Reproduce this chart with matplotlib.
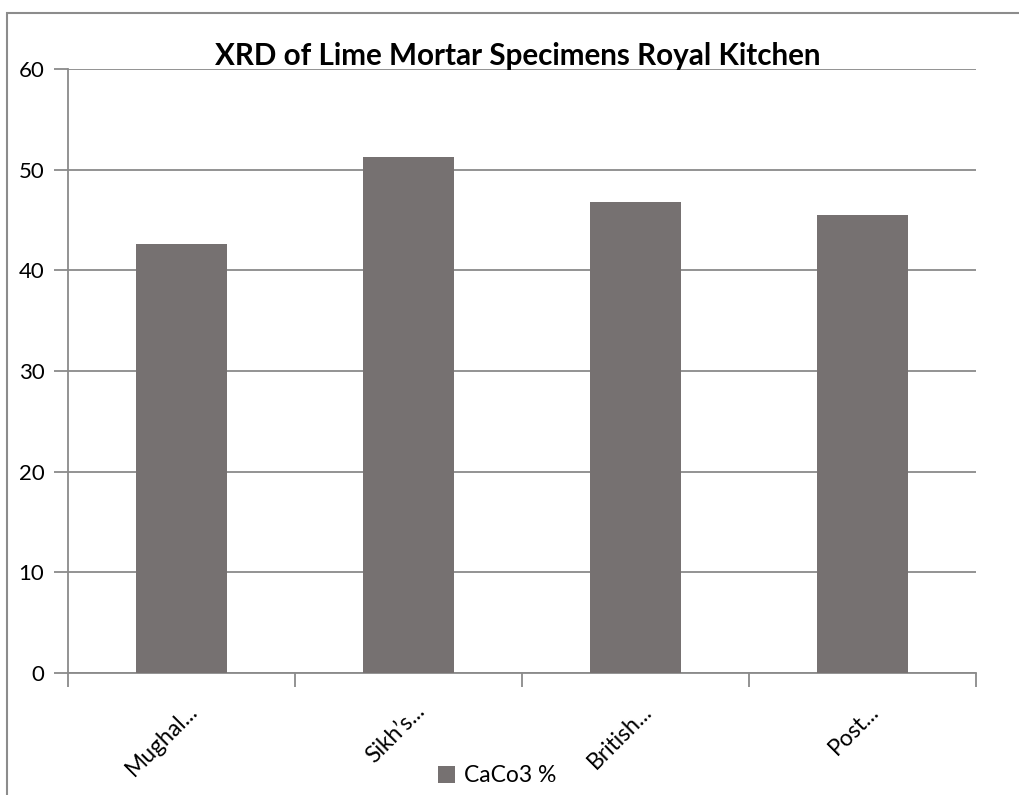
import matplotlib
matplotlib.use("Agg")
import matplotlib.pyplot as plt
from matplotlib.patches import Rectangle, Patch
import matplotlib.transforms as mtransforms

categories = ["Mughal...", "Sikh\u2019s...", "British...", "Post..."]
caco3 = [42.6, 51.3, 46.8, 45.5]
series_name = "CaCo3 %"
title = "XRD of Lime Mortar Specimens Royal Kitchen"
yticks = [0, 10, 20, 30, 40, 50, 60]

plt.rcParams["font.family"] = ["Lato", "DejaVu Sans"]

W, H = 1019, 795
fig = plt.figure(figsize=(W / 100, H / 100), dpi=100)
fig.patch.set_facecolor("white")

# outer chart frame
fig.patches.append(Rectangle((7 / W, -0.1), 1.2, 1 - 13 / H + 0.1,
                             transform=fig.transFigure, fill=False,
                             edgecolor="#8c8c8c", linewidth=1.5))

ax = fig.add_axes([68 / W, (H - 673) / H, (976 - 68) / W, (673 - 69) / H])

xs = list(range(len(categories)))
ax.bar(xs, caco3, width=0.4, color="#767171", zorder=3, label=series_name)

ax.set_xlim(-0.5, len(categories) - 0.5)
ax.set_ylim(0, 60)
ax.set_yticks(yticks)
ax.yaxis.grid(True, color="#8a8a8a", linewidth=1.3, zorder=0)
ax.set_axisbelow(True)

for s in ["top", "right"]:
    ax.spines[s].set_visible(False)
for s in ["left", "bottom"]:
    ax.spines[s].set_color("#8a8a8a")
    ax.spines[s].set_linewidth(1.3)

ax.tick_params(axis="y", length=10, width=1.3, color="#8a8a8a",
               labelsize=16, pad=7, direction="out")
# category boundary ticks
ax.set_xticks([i - 0.5 for i in range(len(categories) + 1)])
ax.set_xticklabels([])
ax.tick_params(axis="x", length=10, width=1.3, color="#8a8a8a", direction="out")

offset = mtransforms.ScaledTranslation(0.13, -0.35, fig.dpi_scale_trans)
for i, lab in enumerate(categories):
    ax.text(i, 0, lab, rotation=45, rotation_mode="anchor",
            ha="right", va="center", fontsize=16.5, color="black",
            transform=ax.transData + offset, clip_on=False)

fig.text(518 / W, 1 - 56 / H, title, ha="center", va="center",
         fontsize=21.3, fontweight="bold")

fig.legend(handles=[Patch(facecolor="#767171", label=series_name)],
           loc="center", bbox_to_anchor=(497 / W, 1 - 776 / H),
           frameon=False, fontsize=16.5, handlelength=0.75, handleheight=0.75,
           handletextpad=0.4, borderpad=0, borderaxespad=0)

fig.savefig("out.png", dpi=100, facecolor="white")
